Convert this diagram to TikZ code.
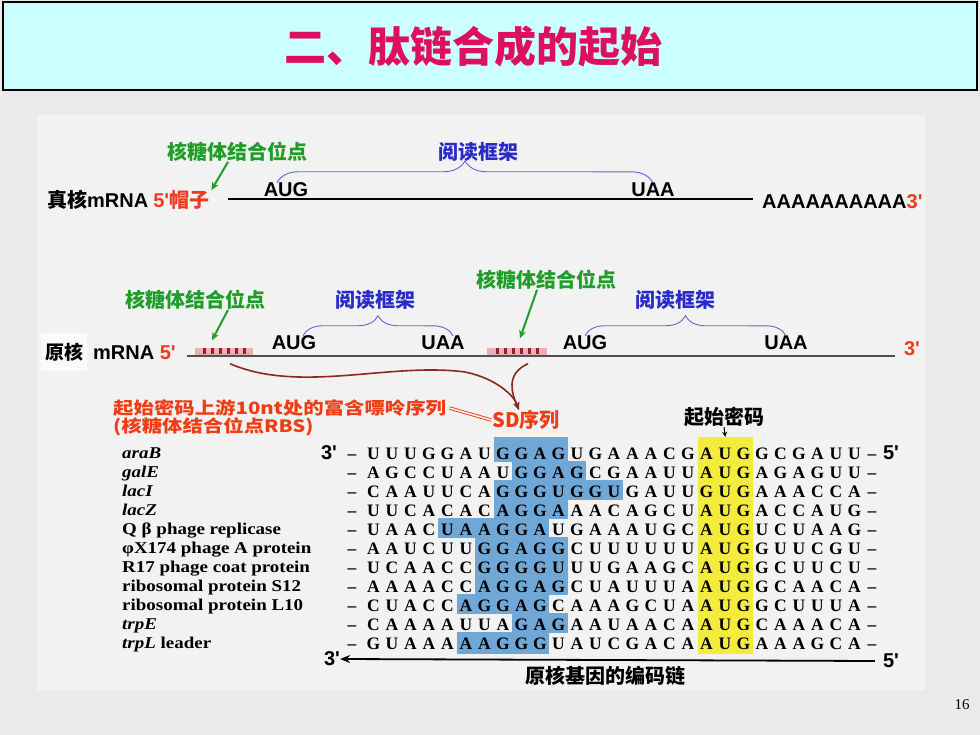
\documentclass[tikz,border=0pt]{standalone}
\usepackage{fontspec}
\setmainfont{Liberation Serif}
\newfontfamily\cjk{Noto Sans CJK SC}
\newfontfamily\cjkwide[FakeStretch=1.2]{Noto Sans CJK SC}
\newfontfamily\arial{Liberation Sans}
\newfontfamily\genefont[FakeStretch=1.15]{Liberation Serif}
\usetikzlibrary{arrows.meta, decorations.pathreplacing}

\definecolor{slidebg}{HTML}{EAEAEA}
\definecolor{panelbg}{HTML}{F2F2F2}
\definecolor{titlecyan}{HTML}{CCFFFF}
\definecolor{titlered}{HTML}{DD1060}
\definecolor{rbsgreen}{HTML}{1E9E28}
\definecolor{orfblue}{HTML}{2A2AC8}
\definecolor{bracecol}{HTML}{6464D2}
\definecolor{capred}{HTML}{EE3A1E}
\definecolor{notered}{HTML}{F03C14}
\definecolor{curvecol}{HTML}{8A2A1E}
\definecolor{strandgray}{HTML}{505050}
\definecolor{rbspink}{HTML}{E9B0B4}
\definecolor{rbsdark}{HTML}{8E1E32}
\definecolor{sdblue}{HTML}{6FA7D6}
\definecolor{atgyellow}{HTML}{F4EC3C}

\newcommand{\rbsmarks}{\rule{3pt}{5.5pt}\hspace{5pt}\rule{3pt}{5.5pt}\hspace{5pt}\rule{3pt}{5.5pt}\hspace{5pt}\rule{3pt}{5.5pt}\hspace{5pt}\rule{3pt}{5.5pt}\hspace{5pt}\rule{3pt}{5.5pt}}

\begin{document}
\begin{tikzpicture}[x=1pt, y=-1pt,
    lab/.style={inner sep=0pt, font=\cjk\bfseries\fontsize{20}{20}\selectfont},
    rbslab/.style={lab, text=rbsgreen},
    orflab/.style={lab, text=orfblue},
    notelab/.style={inner sep=0pt, text=notered, font=\cjkwide\bfseries\fontsize{17}{17}\selectfont},
    codon/.style={inner sep=0pt, font=\arial\bfseries\fontsize{20}{20}\selectfont},
    rbsbox/.style={fill=rbspink, minimum height=7pt, inner sep=0pt, text=rbsdark},
    pointer/.style={-{Stealth[length=8pt, width=7pt]}, line width=2pt, color=rbsgreen},
    orfbrace/.style={decorate, decoration={brace, amplitude=#1}, color=bracecol, line width=0.9pt},
    sdcurve/.style={-{Stealth[length=8pt, width=6pt]}, line width=1.6pt, color=curvecol},
    base/.style={inner sep=0pt, anchor=base, font=\bfseries\fontsize{17.5}{17.5}\selectfont},
    gene/.style={inner sep=0pt, anchor=base west, font=\genefont\bfseries\fontsize{16.5}{16.5}\selectfont}]

    \useasboundingbox (0,0) rectangle (980,735);
    \fill[color = slidebg] (0,0) rectangle (980,735);
    \fill[color = panelbg] (37,115) rectangle (925,690);

    \draw[fill=titlecyan, line width=1.2pt] (3,2) rectangle (977,90);
    \node[text=titlered, font=\cjk\bfseries\fontsize{42}{42}\selectfont] (title) at (473,47) {二、肽链合成的起始};

    % eukaryotic mRNA
    \node[anchor=west, inner sep=0pt, font=\fontsize{20}{20}\selectfont] (eukRna) at (47,200)
        {{\cjk\bfseries 真核}{\arial\bfseries mRNA} \textcolor{capred}{{\arial\bfseries 5'}{\cjk\bfseries 帽子}}};
    \coordinate (eukL) at (228,199);
    \coordinate (eukR) at (753,199);
    \draw[color = black, line width=2pt] (eukL) -- (eukR);
    \node[codon, anchor=west] (polyA) at (762,202) {AAAAAAAAAA\textcolor{capred}{3'}};
    \node[codon] (augTop) at (286,190) {AUG};
    \node[codon] (uaaTop) at (653,190) {UAA};
    \node[rbslab] (lblCap) at (237,152) {核糖体结合位点};
    \node[orflab] (lblOrfTop) at (478,152) {阅读框架};
    \draw[orfbrace=22pt] ([xshift=-9pt]augTop.north) -- (uaaTop.north);
    \draw[pointer] ([xshift=-9pt]lblCap.south) -- ([xshift=2pt]eukRna.north east);

    % prokaryotic mRNA
    \node[fill=white!60!panelbg, inner xsep=4pt, inner ysep=10pt, font=\cjk\bfseries\fontsize{19}{19}\selectfont] (prok) at (64,352) {原核};
    \node[anchor=west, inner sep=0pt, font=\arial\bfseries\fontsize{20}{20}\selectfont] (prokRna) at (93,353) {mRNA \textcolor{capred}{5'}};
    \node[codon, text=capred] (prok3) at (912,349) {3'};
    \coordinate (prokL) at (187,356);
    \coordinate (prokR) at (895,356);
    \draw[color = strandgray, line width=1.3pt] (prokL) -- (prokR);
    \node[rbsbox, minimum width=58pt] (rbsA) at (224,351) {\rbsmarks};
    \node[rbsbox, minimum width=60pt] (rbsB) at (517,351) {\rbsmarks};
    \node[codon] (augA) at (294,343) {AUG};
    \node[codon] (uaaA) at (443,343) {UAA};
    \node[codon] (augB) at (585,343) {AUG};
    \node[codon] (uaaB) at (786,343) {UAA};
    \node[rbslab] (lblRbsA) at (195,300) {核糖体结合位点};
    \node[rbslab] (lblRbsB) at (546,280) {核糖体结合位点};
    \node[orflab] (lblOrfA) at (375,300) {阅读框架};
    \node[orflab] (lblOrfB) at (675,300) {阅读框架};
    \draw[orfbrace=20pt] ([xshift=9pt]augA.north) -- ([xshift=10pt]uaaA.north);
    \draw[orfbrace=20pt] (augB.north) -- (uaaB.north);
    \draw[pointer] ([xshift=33pt]lblRbsA.south) -- ([xshift=-12pt, yshift=7pt]rbsA.north);
    \draw[pointer] ([xshift=-9pt]lblRbsB.south) -- ([xshift=3pt, yshift=9pt]rbsB.north);

    % SD note
    \node[notelab, anchor=west] (noteA) at (113,408) {起始密码上游10nt处的富含嘌呤序列};
    \node[notelab, anchor=west] (noteB) at (113,427) {(核糖体结合位点RBS)};
    \node[lab, text=notered] (sd) at (526,420) {SD序列};
    \draw[color = notered, double=panelbg, double distance=1.6pt, line width=0.9pt] ([xshift=3pt]noteA.east) -- ([xshift=-1pt]sd.west);
    \draw[sdcurve] ([xshift=6pt, yshift=-9pt]rbsA.south) .. controls (300,394) and (390,362) .. (465,372)
        .. controls (495,378) and (514,395) .. ([xshift=-7pt]sd.north);
    \draw[sdcurve] ([xshift=11pt, yshift=-9pt]rbsB.south) .. controls (505,374) and (512,394) .. ([xshift=-7pt]sd.north);

    % sequence table
    \foreach \r/\a/\b in {1/8/11, 2/9/12, 3/8/14, 4/8/11, 5/5/10, 6/7/11, 7/7/11, 8/7/11, 9/6/10, 10/9/11, 11/6/10} {
        \pgfmathsetmacro\ytop{\r==1 ? 437 : 453+19*(\r-1)-10.8}
        \pgfmathsetmacro\ybot{\r==11 ? 654 : 453+19*(\r-1)+8.8}
        \fill[color = sdblue] ({373.5+18.5*(\a-1)-9.25}, \ytop) rectangle ({373.5+18.5*(\b-1)+9.25}, \ybot);
    }
    \node[fill=atgyellow, minimum width=55.5pt, minimum height=217pt, inner sep=0pt] (atgCol) at (725.25,545.5) {};
    \node[lab, text=black] (lblStart) at (724,417) {起始密码};
    \draw[-{Stealth[length=5pt, width=5pt]}, line width=1pt] (lblStart.south) -- (atgCol.north);

    \foreach \seq [count=\r] in {
        {U,U,U,G,G,A,U,G,G,A,G,U,G,A,A,A,C,G,A,U,G,G,C,G,A,U,U},
        {A,G,C,C,U,A,A,U,G,G,A,G,C,G,A,A,U,U,A,U,G,A,G,A,G,U,U},
        {C,A,A,U,U,C,A,G,G,G,U,G,G,U,G,A,U,U,G,U,G,A,A,A,C,C,A},
        {U,U,C,A,C,A,C,A,G,G,A,A,A,C,A,G,C,U,A,U,G,A,C,C,A,U,G},
        {U,A,A,C,U,A,A,G,G,A,U,G,A,A,A,U,G,C,A,U,G,U,C,U,A,A,G},
        {A,A,U,C,U,U,G,G,A,G,G,C,U,U,U,U,U,U,A,U,G,G,U,U,C,G,U},
        {U,C,A,A,C,C,G,G,G,G,U,U,U,G,A,A,G,C,A,U,G,G,C,U,U,C,U},
        {A,A,A,A,C,C,A,G,G,A,G,C,U,A,U,U,U,A,A,U,G,G,C,A,A,C,A},
        {C,U,A,C,C,A,G,G,A,G,C,A,A,A,G,C,U,A,A,U,G,G,C,U,U,U,A},
        {C,A,A,A,A,U,U,A,G,A,G,A,A,U,A,A,C,A,A,U,G,C,A,A,A,C,A},
        {G,U,A,A,A,A,A,G,G,G,U,A,U,C,G,A,C,A,A,U,G,A,A,A,G,C,A}} {
        \pgfmathsetmacro\yb{459+19*(\r-1)}
        \node[base] (dl\r) at (352,\yb) {–};
        \node[base] (dr\r) at (872,\yb) {–};
        \foreach \c [count=\i] in \seq
            \node[base] (s\r-\i) at ({373.5+18.5*(\i-1)},\yb) {\c};
    }
    \node[codon, anchor=base] (row3) at (329,459) {3'};
    \node[codon, anchor=base] (row5) at (891,459) {5'};

    \foreach \g [count=\r] in {\textit{araB}, \textit{galE}, \textit{lacI}, \textit{lacZ}, Q β phage replicase,
        φX174 phage A protein, R17 phage coat protein, ribosomal protein S12, ribosomal protein L10,
        \textit{trpE}, \textit{trpL} leader}
        \node[gene] (g\r) at (122,{458.5+19*(\r-1)}) {\g};

    % coding strand
    \node[codon] (b3) at (332,659) {3'};
    \node[codon] (b5) at (891,661) {5'};
    \draw[{Stealth[length=10pt, width=8pt]}-, line width=1.8pt] (b3.east) -- ([xshift=-8pt]b5.west);
    \node[lab, text=black] (coding) at (605,676) {原核基因的编码链};

    \node[font=\fontsize{15}{15}\selectfont] (pageNo) at (962,705) {16};
\end{tikzpicture}
\end{document}
